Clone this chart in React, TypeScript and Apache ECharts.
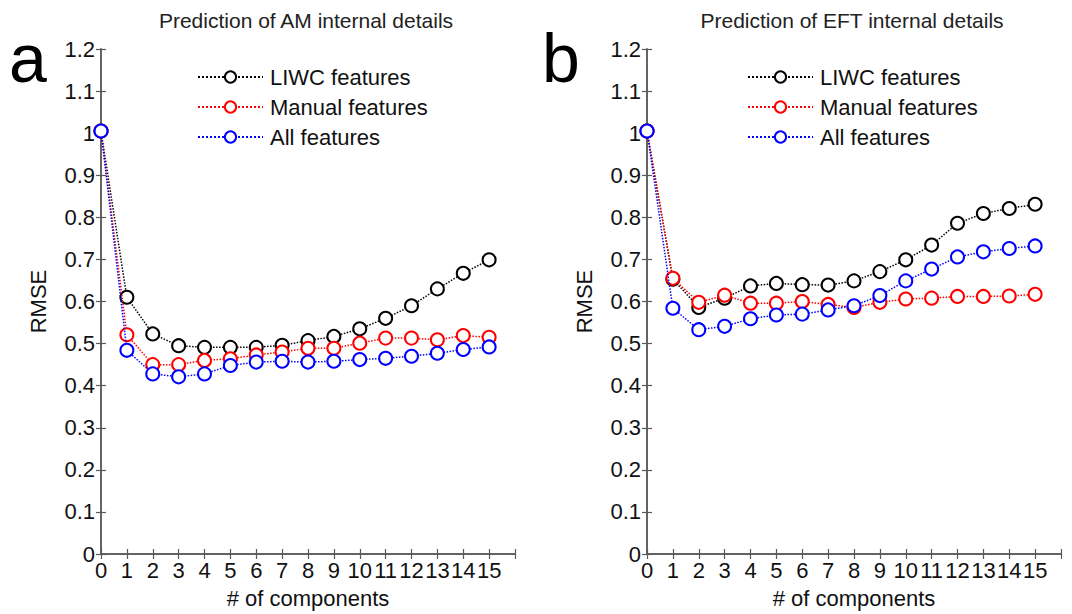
import React, { useEffect, useRef } from "react";
import * as echarts from "echarts";

const components = [0, 1, 2, 3, 4, 5, 6, 7, 8, 9, 10, 11, 12, 13, 14, 15];
const seriesNames = ["LIWC features", "Manual features", "All features"];
const panelTitles = ["Prediction of AM internal details", "Prediction of EFT internal details"];
const panelLetters = ["a", "b"];

const amLiwc = [1.005, 0.61, 0.523, 0.495, 0.491, 0.491, 0.491, 0.496, 0.507, 0.517, 0.535, 0.56, 0.59, 0.63, 0.667, 0.699];
const amManual = [1.005, 0.521, 0.45, 0.45, 0.46, 0.464, 0.473, 0.48, 0.489, 0.489, 0.501, 0.513, 0.513, 0.509, 0.519, 0.515];
const amAll = [1.005, 0.484, 0.428, 0.421, 0.428, 0.448, 0.456, 0.458, 0.456, 0.458, 0.462, 0.465, 0.47, 0.477, 0.486, 0.492];

const eftLiwc = [1.005, 0.653, 0.586, 0.608, 0.637, 0.643, 0.64, 0.639, 0.649, 0.671, 0.699, 0.734, 0.786, 0.809, 0.821, 0.831];
const eftManual = [1.005, 0.655, 0.598, 0.615, 0.596, 0.596, 0.6, 0.593, 0.586, 0.598, 0.606, 0.608, 0.612, 0.612, 0.613, 0.617];
const eftAll = [1.005, 0.584, 0.533, 0.541, 0.559, 0.568, 0.57, 0.58, 0.59, 0.614, 0.649, 0.677, 0.706, 0.718, 0.726, 0.732];

const colors = ["#000000", "#ff0000", "#0000ff"];
const FONT = "'Liberation Sans', Arial, Helvetica, sans-serif";
const AXIS_COLOR = "#5a5a5a";

const gridLefts = [101, 647];
const GRID_TOP = 49;
const GRID_W = 414;
const GRID_H = 507;

export default function App() {
  const ref = useRef<HTMLDivElement>(null);

  useEffect(() => {
    document.body.style.margin = "0";
    const chart = echarts.init(ref.current!, null, { renderer: "svg" });

    const axisLine = { show: true, lineStyle: { color: AXIS_COLOR, width: 1.5 } };
    const axisTick = { show: true, inside: true, length: 5, lineStyle: { color: AXIS_COLOR, width: 1.2 } };

    const xAxes: any[] = [];
    const yAxes: any[] = [];
    [0, 1].forEach((g) => {
      xAxes.push({
        gridIndex: g,
        type: "value",
        position: "bottom",
        min: 0,
        max: 16,
        interval: 1,
        axisLine,
        axisTick,
        splitLine: { show: false },
        axisLabel: {
          formatter: (v: number) => (v <= 15 ? String(v) : ""),
          fontSize: 22,
          color: "#111",
          margin: 5,
          fontFamily: FONT,
        },
        name: "# of components",
        nameLocation: "middle",
        nameGap: 33,
        nameTextStyle: { fontSize: 22, color: "#111", fontFamily: FONT },
      });
      xAxes.push({
        gridIndex: g,
        type: "value",
        position: "top",
        min: 0,
        max: 16,
        interval: 1,
        axisLine,
        axisTick,
        splitLine: { show: false },
        axisLabel: { show: false },
      });
      yAxes.push({
        gridIndex: g,
        type: "value",
        position: "left",
        min: 0,
        max: 1.2,
        interval: 0.1,
        axisLine,
        axisTick,
        splitLine: { show: false },
        axisLabel: {
          formatter: (v: number) => String(Math.round(v * 10) / 10),
          fontSize: 22,
          color: "#111",
          margin: 6,
          fontFamily: FONT,
        },
        name: "RMSE",
        nameLocation: "middle",
        nameRotate: 90,
        nameGap: 52,
        nameTextStyle: { fontSize: 22, color: "#111", fontFamily: FONT },
      });
      yAxes.push({
        gridIndex: g,
        type: "value",
        position: "right",
        min: 0,
        max: 1.2,
        interval: 0.1,
        axisLine,
        axisTick,
        splitLine: { show: false },
        axisLabel: { show: false },
      });
    });

    const panels = [
      [amLiwc, amManual, amAll],
      [eftLiwc, eftManual, eftAll],
    ];
    const series: any[] = [];
    panels.forEach((vals, g) => {
      vals.forEach((arr, i) => {
        series.push({
          type: "line",
          name: seriesNames[i],
          xAxisIndex: g * 2,
          yAxisIndex: g * 2,
          data: components.map((c, k) => [c, arr[k]]),
          symbol: "emptyCircle",
          symbolSize: 13,
          showSymbol: true,
          itemStyle: { color: colors[i], borderColor: colors[i], borderWidth: 1.6 },
          lineStyle: { color: colors[i], width: 1.5, type: "dotted" },
          emphasis: { disabled: true },
          z: 2 + i,
        });
      });
    });

    const legends = [192, 742].map((left) => ({
      left,
      top: 61,
      orient: "vertical",
      itemWidth: 65,
      itemHeight: 14,
      itemGap: 8,
      selectedMode: false,
      data: seriesNames,
      textStyle: { fontSize: 22, color: "#111", fontFamily: FONT, padding: [0, 0, 0, 2] },
    }));

    const graphic: any[] = [];
    [0, 1].forEach((g) => {
      graphic.push({
        type: "text",
        x: gridLefts[g] + GRID_W / 2 - 2,
        y: 20,
        style: {
          text: panelTitles[g],
          fontSize: 21,
          fontFamily: FONT,
          fill: "#222",
          textAlign: "center",
          textVerticalAlign: "middle",
        },
      });
    });
    graphic.push({
      type: "text",
      x: 9,
      y: 92,
      style: { text: panelLetters[0], fontSize: 68, fontFamily: FONT, fill: "#000", textAlign: "left", textVerticalAlign: "bottom" },
    });
    graphic.push({
      type: "text",
      x: 542,
      y: 92,
      style: { text: panelLetters[1], fontSize: 68, fontFamily: FONT, fill: "#000", textAlign: "left", textVerticalAlign: "bottom" },
    });

    chart.setOption({
      animation: false,
      backgroundColor: "#ffffff",
      grid: gridLefts.map((left) => ({ left, top: GRID_TOP, width: GRID_W, height: GRID_H })),
      xAxis: xAxes,
      yAxis: yAxes,
      legend: legends,
      series,
      graphic,
    });

    return () => chart.dispose();
  }, []);

  return <div ref={ref} style={{ width: 1072, height: 614 }} />;
}
